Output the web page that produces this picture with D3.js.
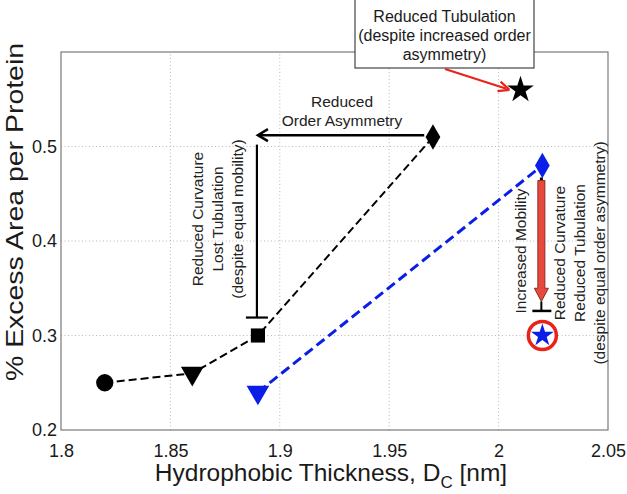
<!DOCTYPE html>
<html>
<head>
<meta charset="utf-8">
<script src="https://cdn.jsdelivr.net/npm/d3@7"></script>
<style>
  html, body { margin: 0; padding: 0; background: #fff; }
  svg { display: block; font-family: "Liberation Sans", Arial, sans-serif; }
</style>
</head>
<body>
<svg id="chart" width="627" height="494"></svg>
<script>
// ---- data ----
const blackX = [1.82, 1.86, 1.89, 1.97];
const blackY = [0.25, 0.26, 0.30, 0.51];
const blackMarkers = ["circle", "triangleDown", "square", "diamond"];
const blueX = [1.89, 2.02];
const blueY = [0.24, 0.48];
const blueMarkers = ["triangleDown", "diamond"];
const blackStar = [2.01, 0.56];
const blueStar = [2.02, 0.30];
const xTicks = [1.8, 1.85, 1.9, 1.95, 2, 2.05];
const xTickLabels = ["1.8", "1.85", "1.9", "1.95", "2", "2.05"];
const yTicks = [0.2, 0.3, 0.4, 0.5];
const yTickLabels = ["0.2", "0.3", "0.4", "0.5"];

const svg = d3.select("#chart");
const x = d3.scaleLinear().domain([1.8, 2.05]).range([61, 608]);
const y = d3.scaleLinear().domain([0.2, 0.6]).range([430, 52]);

// grid
const grid = svg.append("g");
grid.selectAll(".vg").data(xTicks.slice(1, -1)).enter().append("line")
  .attr("x1", d => x(d)).attr("x2", d => x(d)).attr("y1", y(0.2)).attr("y2", y(0.6))
  .attr("stroke", "#b8b8b8").attr("stroke-width", 1).attr("stroke-dasharray", "1,2.5");
grid.selectAll(".hg").data(yTicks.slice(1)).enter().append("line")
  .attr("y1", d => y(d)).attr("y2", d => y(d)).attr("x1", x(1.8)).attr("x2", x(2.05))
  .attr("stroke", "#b8b8b8").attr("stroke-width", 1).attr("stroke-dasharray", "1,2.5");

// frame
svg.append("rect").attr("x", x(1.8)).attr("y", y(0.6))
  .attr("width", x(2.05) - x(1.8)).attr("height", y(0.2) - y(0.6))
  .attr("fill", "none").attr("stroke", "#7a7a7a").attr("stroke-width", 1.2);

// axes (labels via d3 axes)
const xAxis = d3.axisBottom(x).tickValues(xTicks).tickFormat((d, i) => xTickLabels[i]).tickSize(0).tickPadding(14);
const gx = svg.append("g").attr("transform", `translate(0,${y(0.2)})`).call(xAxis);
gx.select(".domain").remove();
gx.selectAll("text").attr("font-size", 18).attr("fill", "#1a1a1a").attr("font-family", "Liberation Sans, Arial, sans-serif");

const yAxis = d3.axisLeft(y).tickValues(yTicks).tickFormat((d, i) => yTickLabels[i]).tickSize(0).tickPadding(4);
const gy = svg.append("g").attr("transform", `translate(${x(1.8)},0)`).call(yAxis);
gy.select(".domain").remove();
gy.selectAll("text").attr("font-size", 18).attr("fill", "#1a1a1a").attr("font-family", "Liberation Sans, Arial, sans-serif");

// axis titles
const xt = svg.append("text").attr("x", 331).attr("y", 481).attr("text-anchor", "middle")
  .attr("font-size", 24.5).attr("fill", "#1a1a1a");
xt.append("tspan").text("Hydrophobic Thickness, D");
xt.append("tspan").attr("font-size", 17).attr("dy", 7).text("C");
xt.append("tspan").attr("dy", -7).text(" [nm]");

svg.append("text").attr("transform", "translate(23,212) rotate(-90)").attr("text-anchor", "middle")
  .attr("font-size", 24).attr("fill", "#1a1a1a")
  .attr("textLength", 338).attr("lengthAdjust", "spacingAndGlyphs").text("% Excess Area per Protein");

// lines
const line = d3.line().x(d => x(d[0])).y(d => y(d[1]));
const blackPts = blackX.map((v, i) => [v, blackY[i]]);
const bluePts = blueX.map((v, i) => [v, blueY[i]]);
svg.append("path").datum(blackPts).attr("d", line).attr("fill", "none")
  .attr("stroke", "#000").attr("stroke-width", 2).attr("stroke-dasharray", "8,4");
svg.append("path").datum(bluePts).attr("d", line).attr("fill", "none")
  .attr("stroke", "#0a1ee8").attr("stroke-width", 3).attr("stroke-dasharray", "10,5");

// markers
function symbolFor(name, size) {
  if (name === "circle") return d3.symbol().type(d3.symbolCircle).size(size)();
  if (name === "square") return d3.symbol().type(d3.symbolSquare).size(size * 0.85)();
  if (name === "diamond") return d3.symbol().type(d3.symbolDiamond).size(size * 0.8)();
  if (name === "triangleDown") return d3.symbol().type(d3.symbolTriangle).size(size * 0.95)();
  if (name === "star") return d3.symbol().type(d3.symbolStar).size(size)();
}
function drawMarker(name, px, py, size, color) {
  const rot = name === "triangleDown" ? 180 : 0;
  svg.append("path").attr("d", symbolFor(name, size))
    .attr("transform", `translate(${px},${py}) rotate(${rot})`)
    .attr("fill", color);
}
blackPts.forEach((p, i) => drawMarker(blackMarkers[i], x(p[0]), y(p[1]), 235, "#000"));
bluePts.forEach((p, i) => drawMarker(blueMarkers[i], x(p[0]), y(p[1]), 235, "#0a1ee8"));

// red circle around blue star
svg.append("circle").attr("cx", x(blueStar[0])).attr("cy", y(blueStar[1])).attr("r", 14)
  .attr("fill", "#fff").attr("stroke", "#e8231a").attr("stroke-width", 3.5);
drawMarker("star", x(blueStar[0]), y(blueStar[1]), 160, "#0a1ee8");
drawMarker("star", x(blackStar[0]), y(blackStar[1]), 220, "#000");

// ---- annotations ----
const annFont = 15.5;
// Reduced order asymmetry arrow
const ay = y(0.512);
svg.append("line").attr("x1", x(1.966)).attr("x2", x(1.89) + 1).attr("y1", ay).attr("y2", ay)
  .attr("stroke", "#000").attr("stroke-width", 2.5);
svg.append("path").attr("d", `M${x(1.89) + 10},${ay - 6} L${x(1.89)},${ay} L${x(1.89) + 10},${ay + 6}`)
  .attr("fill", "none").attr("stroke", "#000").attr("stroke-width", 2.5);
const t1 = svg.append("text").attr("text-anchor", "middle").attr("font-size", annFont).attr("fill", "#222");
t1.append("tspan").attr("x", 342).attr("y", 107).text("Reduced");
t1.append("tspan").attr("x", 342).attr("y", 126).text("Order Asymmetry");

// vertical line with T bar
const vx = x(1.89) - 1;
svg.append("line").attr("x1", vx).attr("x2", vx).attr("y1", y(0.502)).attr("y2", y(0.319))
  .attr("stroke", "#000").attr("stroke-width", 2.2);
svg.append("line").attr("x1", vx - 11).attr("x2", vx + 11).attr("y1", y(0.319)).attr("y2", y(0.319))
  .attr("stroke", "#000").attr("stroke-width", 2.2);
const t2 = svg.append("text").attr("transform", "translate(218,219) rotate(-90)")
  .attr("text-anchor", "middle").attr("font-size", annFont).attr("fill", "#222");
t2.append("tspan").attr("x", 0).attr("y", -15).text("Reduced Curvature");
t2.append("tspan").attr("x", 0).attr("y", 5).text("Lost Tubulation");
t2.append("tspan").attr("x", 0).attr("y", 25).text("(despite equal mobility)");

// red block arrow down
const rx = x(2.02) - 1;
const rTop = y(0.464), rHeadStart = y(0.35), rTip = y(0.336);
svg.append("line").attr("x1", rx).attr("x2", rx).attr("y1", rTop - 3).attr("y2", rTop + 3)
  .attr("stroke", "#000").attr("stroke-width", 3);
svg.append("path")
  .attr("d", `M${rx - 3.5},${rTop} L${rx + 3.5},${rTop} L${rx + 3.5},${rHeadStart} L${rx + 7},${rHeadStart} L${rx},${rTip} L${rx - 7},${rHeadStart} L${rx - 3.5},${rHeadStart} Z`)
  .attr("fill", "#e8493d").attr("stroke", "#8a2a24").attr("stroke-width", 1);
svg.append("line").attr("x1", rx).attr("x2", rx).attr("y1", rTip).attr("y2", y(0.326))
  .attr("stroke", "#000").attr("stroke-width", 2);
svg.append("line").attr("x1", rx - 9).attr("x2", rx + 10).attr("y1", y(0.326)).attr("y2", y(0.326))
  .attr("stroke", "#000").attr("stroke-width", 2.5);

svg.append("text").attr("transform", "translate(526,251) rotate(-90)")
  .attr("text-anchor", "middle").attr("font-size", annFont).attr("fill", "#222").text("Increased Mobility");
const t3 = svg.append("text").attr("transform", "translate(580,253) rotate(-90)")
  .attr("text-anchor", "middle").attr("font-size", annFont).attr("fill", "#222");
t3.append("tspan").attr("x", 0).attr("y", -15).text("Reduced Curvature");
t3.append("tspan").attr("x", 0).attr("y", 5).text("Reduced Tubulation");
t3.append("tspan").attr("x", 0).attr("y", 25).text("(despite equal order asymmetry)");

// top box
svg.append("rect").attr("x", 355).attr("y", -2).attr("width", 179).attr("height", 70)
  .attr("fill", "#fff").attr("stroke", "#444").attr("stroke-width", 1.2);
const t4 = svg.append("text").attr("text-anchor", "middle").attr("font-size", 16).attr("fill", "#1a1a1a");
t4.append("tspan").attr("x", 444.5).attr("y", 22).text("Reduced Tubulation");
t4.append("tspan").attr("x", 444.5).attr("y", 41).text("(despite increased order");
t4.append("tspan").attr("x", 444.5).attr("y", 60).text("asymmetry)");

// red pointer arrow
const ax1 = 445, ay1 = 69, ax2 = x(2.01) - 11, ay2 = y(0.56);
svg.append("line").attr("x1", ax1).attr("y1", ay1).attr("x2", ax2 - 3).attr("y2", ay2 - 1)
  .attr("stroke", "#e8231a").attr("stroke-width", 2.2);
const ang = Math.atan2(ay2 - ay1, ax2 - ax1);
const hl = 11, hw = 5;
const bx = ax2 - hl * Math.cos(ang), by = ay2 - hl * Math.sin(ang);
svg.append("path")
  .attr("d", `M${ax2},${ay2} L${bx - hw * Math.sin(ang)},${by + hw * Math.cos(ang)} M${ax2},${ay2} L${bx + hw * Math.sin(ang)},${by - hw * Math.cos(ang)}`)
  .attr("fill", "none").attr("stroke", "#e8231a").attr("stroke-width", 2.2);
</script>
</body>
</html>
